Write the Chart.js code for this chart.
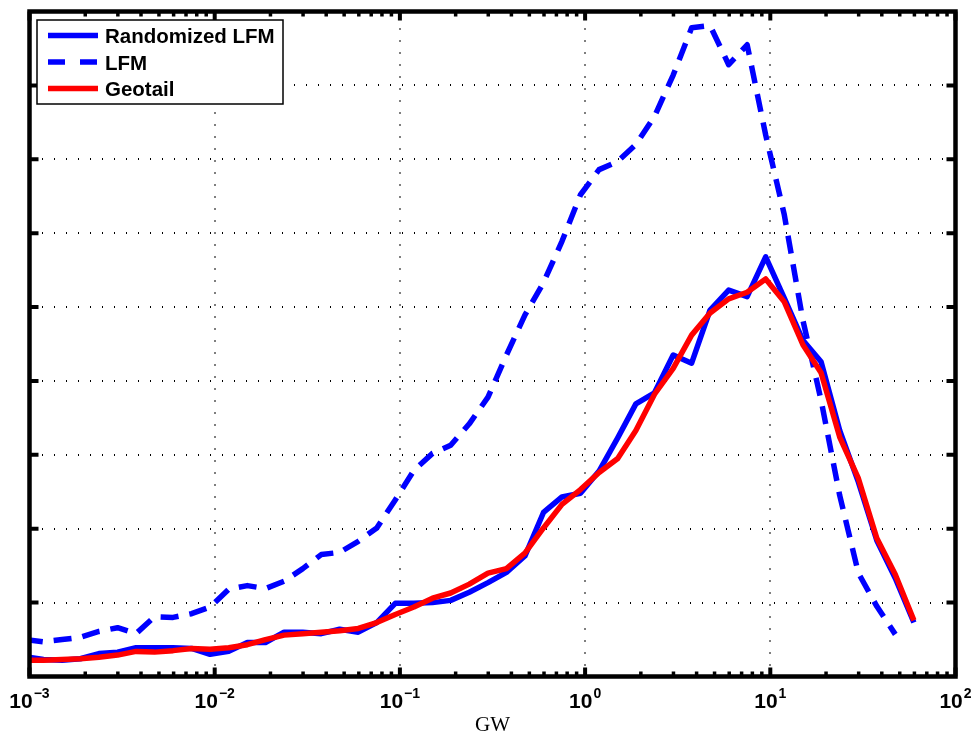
<!DOCTYPE html>
<html>
<head>
<meta charset="utf-8">
<script src="https://cdn.jsdelivr.net/npm/chart.js@4.4.1/dist/chart.umd.min.js"></script>
<style>
  body { margin: 0; background: #fff; }
  canvas { display: block; }
</style>
</head>
<body>
<canvas id="chart" width="974" height="734"></canvas>
<script>
// bin centres (GW)
const gw = [
  0.000944, 0.00119, 0.0015, 0.00188, 0.00237, 0.00299, 0.00376, 0.00473, 0.00596, 0.0075,
  0.00944, 0.0119, 0.015, 0.0188, 0.0237, 0.0299, 0.0376, 0.0473, 0.0596, 0.075,
  0.0944, 0.119, 0.15, 0.188, 0.237, 0.299, 0.376, 0.473, 0.596, 0.75,
  0.944, 1.19, 1.5, 1.88, 2.37, 2.99, 3.76, 4.73, 5.96, 7.5,
  9.44, 11.9, 15, 18.8, 23.7, 29.9, 37.6, 47.3, 59.6
];

const randomizedLfm = [
  0.27, 0.23, 0.22, 0.24, 0.31, 0.33, 0.39, 0.39, 0.39, 0.38,
  0.30, 0.34, 0.46, 0.46, 0.60, 0.60, 0.58, 0.64, 0.60, 0.73,
  0.99, 0.99, 1.00, 1.03, 1.14, 1.27, 1.41, 1.63, 2.22, 2.43,
  2.48, 2.78, 3.23, 3.69, 3.84, 4.35, 4.24, 4.96, 5.23, 5.14,
  5.68, 5.12, 4.55, 4.26, 3.33, 2.63, 1.84, 1.33, 0.73
];

const lfm = [
  0.50, 0.47, 0.50, 0.53, 0.61, 0.66, 0.58, 0.81, 0.80, 0.85,
  0.94, 1.18, 1.23, 1.19, 1.29, 1.46, 1.65, 1.68, 1.83, 2.01,
  2.39, 2.79, 3.02, 3.13, 3.42, 3.78, 4.35, 4.89, 5.33, 5.89,
  6.52, 6.86, 6.97, 7.20, 7.58, 8.14, 8.78, 8.81, 8.28, 8.55,
  7.33, 6.25, 4.82, 3.74, 2.45, 1.40, 0.95, 0.57, null
];

const geotail = [
  0.22, 0.22, 0.23, 0.24, 0.26, 0.29, 0.34, 0.33, 0.35, 0.38,
  0.37, 0.39, 0.43, 0.50, 0.56, 0.58, 0.60, 0.62, 0.65, 0.73,
  0.84, 0.94, 1.06, 1.13, 1.25, 1.40, 1.46, 1.67, 2.01, 2.33,
  2.53, 2.76, 2.95, 3.33, 3.82, 4.17, 4.62, 4.92, 5.11, 5.20,
  5.38, 5.07, 4.49, 4.11, 3.24, 2.68, 1.87, 1.38, 0.76
];

const decades = [1e-3, 1e-2, 1e-1, 1, 10, 100];
const decadeExp = ['-3', '-2', '-1', '0', '1', '2'];
const xTitle = 'GW';

const toPoints = vals => gw.map((x, i) => ({x: x, y: vals[i]}));

const DASH = [18, 11];

// MATLAB-like box, ticks, labels and legend
const matlabAxes = {
  id: 'matlabAxes',
  afterDatasetsDraw(chart) {
    const {ctx, chartArea: a, scales: {x, y}} = chart;
    ctx.save();
    ctx.strokeStyle = '#000';
    ctx.lineCap = 'butt';

    // minor x ticks
    ctx.lineWidth = 3.5;
    ctx.beginPath();
    for (let d = 0; d < decades.length - 1; d++) {
      for (let m = 2; m <= 9; m++) {
        const px = x.getPixelForValue(decades[d] * m);
        ctx.moveTo(px, a.bottom); ctx.lineTo(px, a.bottom - 5);
        ctx.moveTo(px, a.top); ctx.lineTo(px, a.top + 5);
      }
    }
    ctx.stroke();

    // major ticks
    ctx.lineWidth = 4;
    ctx.beginPath();
    decades.forEach(v => {
      const px = x.getPixelForValue(v);
      ctx.moveTo(px, a.bottom); ctx.lineTo(px, a.bottom - 9);
      ctx.moveTo(px, a.top); ctx.lineTo(px, a.top + 9);
    });
    for (let v = 1; v < 9; v++) {
      const py = y.getPixelForValue(v);
      ctx.moveTo(a.left, py); ctx.lineTo(a.left + 9, py);
      ctx.moveTo(a.right, py); ctx.lineTo(a.right - 9, py);
    }
    ctx.stroke();

    // frame
    ctx.lineWidth = 4.5;
    ctx.lineJoin = 'miter';
    ctx.strokeRect(a.left, a.top, a.right - a.left, a.bottom - a.top);

    // tick labels 10^n
    ctx.fillStyle = '#000';
    ctx.textBaseline = 'alphabetic';
    ctx.textAlign = 'left';
    decades.forEach((v, i) => {
      const px = x.getPixelForValue(v);
      ctx.font = 'bold 21px "Liberation Sans", Arial, sans-serif';
      const wBase = ctx.measureText('10').width;
      ctx.font = 'bold 14px "Liberation Sans", Arial, sans-serif';
      const expText = decadeExp[i].replace('-', '\u2212');
      const wExp = ctx.measureText(expText).width;
      const start = px - (wBase + wExp + 1) / 2;
      ctx.font = 'bold 21px "Liberation Sans", Arial, sans-serif';
      ctx.fillText('10', start, 708);
      ctx.font = 'bold 14px "Liberation Sans", Arial, sans-serif';
      ctx.fillText(expText, start + wBase + 1, 697.5);
    });

    // axis title
    ctx.font = '21px "Liberation Serif", "Times New Roman", serif';
    ctx.textAlign = 'center';
    ctx.fillText(xTitle, (a.left + a.right) / 2, 731);

    // legend
    const box = {x: 37, y: 20, w: 246, h: 84};
    ctx.fillStyle = '#fff';
    ctx.fillRect(box.x, box.y, box.w, box.h);
    ctx.lineWidth = 1.5;
    ctx.strokeStyle = '#000';
    ctx.strokeRect(box.x, box.y, box.w, box.h);
    const rows = [35.5, 62, 88.5];
    const bases = [43, 69.5, 96];
    chart.data.datasets.forEach((ds, i) => {
      ctx.beginPath();
      ctx.lineWidth = ds.borderWidth;
      ctx.strokeStyle = ds.borderColor;
      ctx.setLineDash(ds.borderDash && ds.borderDash.length ? [17, 15] : []);
      ctx.moveTo(48, rows[i]); ctx.lineTo(98, rows[i]);
      ctx.stroke();
      ctx.setLineDash([]);
      ctx.fillStyle = '#000';
      ctx.textAlign = 'left';
      ctx.font = 'bold 20.5px "Liberation Sans", Arial, sans-serif';
      ctx.fillText(ds.label, 105, bases[i]);
    });
    ctx.restore();
  }
};

new Chart(document.getElementById('chart'), {
  type: 'line',
  data: {
    datasets: [
      {label: 'Randomized LFM', data: toPoints(randomizedLfm), borderColor: '#0000ff', borderWidth: 5.5, order: 2},
      {label: 'LFM', data: toPoints(lfm), borderColor: '#0000ff', borderWidth: 5.5, borderDash: DASH, order: 1},
      {label: 'Geotail', data: toPoints(geotail), borderColor: '#ff0000', borderWidth: 5.5, order: 0}
    ]
  },
  options: {
    responsive: false,
    animation: false,
    events: [],
    layout: {padding: {left: 29.5, right: 18.5, top: 11.5, bottom: 57.5}},
    elements: {
      point: {radius: 0},
      line: {tension: 0, fill: false, borderJoinStyle: 'round', borderCapStyle: 'butt'}
    },
    datasets: {line: {clip: {left: 0, top: 0, right: 0, bottom: 0}}},
    plugins: {legend: {display: false}, tooltip: {enabled: false}},
    scales: {
      x: {
        type: 'logarithmic',
        min: 1e-3,
        max: 100,
        afterBuildTicks: s => { s.ticks = decades.map(v => ({value: v})); },
        afterFit: s => { s.height = 0; },
        ticks: {display: false},
        grid: {color: '#000', lineWidth: 2, drawTicks: false},
        border: {display: false, dash: [1, 11], dashOffset: 7}
      },
      y: {
        type: 'linear',
        min: 0,
        max: 9,
        ticks: {display: false, stepSize: 1},
        afterFit: s => { s.width = 0; },
        grid: {color: '#000', lineWidth: 2, drawTicks: false},
        border: {display: false, dash: [1, 11]}
      }
    }
  },
  plugins: [matlabAxes]
});
</script>
</body>
</html>
